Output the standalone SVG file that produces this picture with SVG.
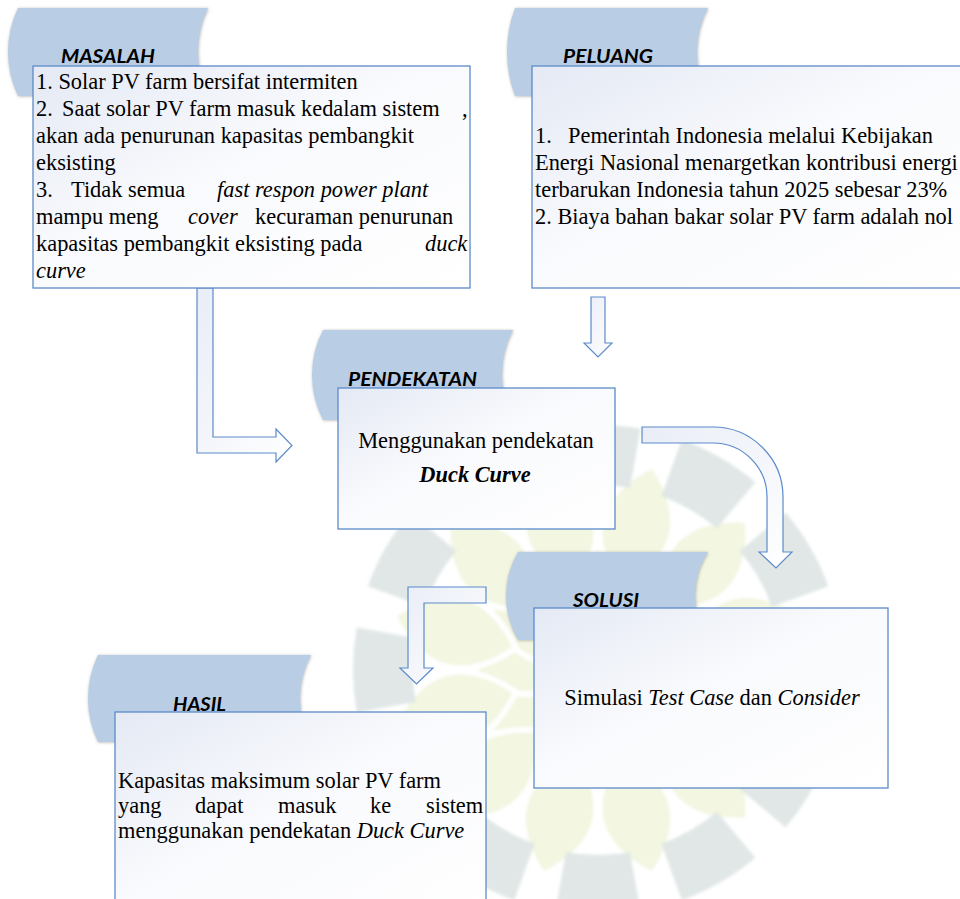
<svg xmlns="http://www.w3.org/2000/svg" width="960" height="899" viewBox="0 0 960 899">
<style>
.tab{fill:#b9cde5;filter:url(#sh)}
.tabt{font-family:Lato,"Open Sans",sans-serif;font-weight:bold;font-style:italic;font-size:18.5px;fill:#000}
.box{fill:url(#boxg);stroke:#5b8bc9;stroke-width:1.3}
.arr{fill:url(#arrg);stroke:#5b8bc9;stroke-width:1.2;stroke-linejoin:miter}
.t{font-family:"Liberation Serif","Times New Roman",serif;font-size:22.4px;fill:#000}
.i{font-style:italic}
.b{font-weight:bold}
.seg{fill:#d6e0de}
.leaf{fill:#eff3d6;stroke:#fff;stroke-width:6}
</style>
<defs>
<linearGradient id="boxg" x1="0" y1="0" x2="1" y2="1">
<stop offset="0" stop-color="#e4e9f4"/>
<stop offset="0.45" stop-color="#f9fafd"/>
<stop offset="1" stop-color="#ffffff"/>
</linearGradient>
<linearGradient id="arrg" x1="0" y1="0" x2="1" y2="1">
<stop offset="0" stop-color="#e9edf7"/>
<stop offset="1" stop-color="#ffffff"/>
</linearGradient>
<filter id="sh" x="-10%" y="-10%" width="120%" height="120%">
<feDropShadow dx="0.5" dy="0.5" stdDeviation="1.4" flood-color="#777" flood-opacity="0.55"/>
</filter>
<filter id="bl"><feGaussianBlur stdDeviation="1.5"/></filter>
<path id="seg" d="M182.2,-32.1 L241.3,-42.5 A245,245 0 0 1 241.3,42.5 L182.2,32.1 A185,185 0 0 0 182.2,-32.1 Z"/>
<path id="leaf" d="M85,0 Q148,-72 212,0 Q148,72 85,0 Z"/>
<path id="leaf2" d="M18,0 Q70,-48 125,0 Q70,48 18,0 Z"/>
</defs>
<rect x="0" y="0" width="960" height="899" fill="#ffffff"/>

<g id="watermark" filter="url(#bl)" opacity="0.75">
<g transform="translate(598,670)">
<use href="#leaf2" class="leaf" transform="rotate(0)"/>
<use href="#leaf2" class="leaf" transform="rotate(30)"/>
<use href="#leaf2" class="leaf" transform="rotate(60)"/>
<use href="#leaf2" class="leaf" transform="rotate(90)"/>
<use href="#leaf2" class="leaf" transform="rotate(120)"/>
<use href="#leaf2" class="leaf" transform="rotate(150)"/>
<use href="#leaf2" class="leaf" transform="rotate(180)"/>
<use href="#leaf2" class="leaf" transform="rotate(210)"/>
<use href="#leaf2" class="leaf" transform="rotate(240)"/>
<use href="#leaf2" class="leaf" transform="rotate(270)"/>
<use href="#leaf2" class="leaf" transform="rotate(300)"/>
<use href="#leaf2" class="leaf" transform="rotate(330)"/>
<use href="#leaf" class="leaf" transform="rotate(15)"/>
<use href="#leaf" class="leaf" transform="rotate(45)"/>
<use href="#leaf" class="leaf" transform="rotate(75)"/>
<use href="#leaf" class="leaf" transform="rotate(105)"/>
<use href="#leaf" class="leaf" transform="rotate(135)"/>
<use href="#leaf" class="leaf" transform="rotate(165)"/>
<use href="#leaf" class="leaf" transform="rotate(195)"/>
<use href="#leaf" class="leaf" transform="rotate(225)"/>
<use href="#leaf" class="leaf" transform="rotate(255)"/>
<use href="#leaf" class="leaf" transform="rotate(285)"/>
<use href="#leaf" class="leaf" transform="rotate(315)"/>
<use href="#leaf" class="leaf" transform="rotate(345)"/>
<use href="#seg" class="seg" transform="rotate(0)"/>
<use href="#seg" class="seg" transform="rotate(30)"/>
<use href="#seg" class="seg" transform="rotate(60)"/>
<use href="#seg" class="seg" transform="rotate(90)"/>
<use href="#seg" class="seg" transform="rotate(120)"/>
<use href="#seg" class="seg" transform="rotate(150)"/>
<use href="#seg" class="seg" transform="rotate(180)"/>
<use href="#seg" class="seg" transform="rotate(210)"/>
<use href="#seg" class="seg" transform="rotate(240)"/>
<use href="#seg" class="seg" transform="rotate(270)"/>
<use href="#seg" class="seg" transform="rotate(300)"/>
<use href="#seg" class="seg" transform="rotate(330)"/>
</g>
</g>

<g id="connectors">
<path class="arr" d="M197,288 L213,288 L213,437 L276,437 L276,429 L292,445.5 L276,462 L276,453 L197,453 Z"/>
<path class="arr" d="M591,297 L605,297 L605,343 L612,343 L598,357 L584,343 L591,343 Z"/>
<path class="arr" d="M642,427 L713,427 A70,70 0 0 1 783,497 L783,552 L792,552 L776,568 L759,552 L767,552 L767,497 A54,54 0 0 0 713,443 L642,443 Z"/>
<path class="arr" d="M486,587 L408,587 L408,668 L400,668 L416.5,684 L433,668 L424,668 L424,603 L486,603 Z"/>
</g>

<g id="masalah">
<path class="tab" d="M18,8 L208,8 A101.8,101.8 0 0 0 208,96 L18,96 A101.8,101.8 0 0 1 18,8 Z"/>
<text class="tabt" x="61" y="63" textLength="94" lengthAdjust="spacingAndGlyphs">MASALAH</text>
<rect class="box" x="33" y="66" width="437" height="222"/>
<text class="t" y="89"><tspan x="36">1. Solar PV farm bersifat intermiten</tspan></text>
<text class="t" y="116"><tspan x="36">2.</tspan><tspan x="62">Saat solar PV farm masuk kedalam sistem</tspan><tspan x="462">,</tspan></text>
<text class="t" x="36" y="143">akan ada penurunan kapasitas pembangkit</text>
<text class="t" x="36" y="170">eksisting</text>
<text class="t" y="197"><tspan x="36">3.</tspan><tspan x="71">Tidak semua</tspan><tspan x="217" class="i">fast respon power plant</tspan></text>
<text class="t" y="224"><tspan x="36">mampu meng</tspan><tspan x="188" class="i">cover</tspan><tspan x="255">kecuraman penurunan</tspan></text>
<text class="t" y="251"><tspan x="36">kapasitas pembangkit eksisting pada</tspan><tspan x="425" class="i">duck</tspan></text>
<text class="t i" x="36" y="278">curve</text>
</g>

<g id="peluang">
<path class="tab" d="M515,8 L708,8 A93.5,93.5 0 0 0 708,96 L515,96 A125,125 0 0 1 515,8 Z"/>
<text class="tabt" x="563" y="63" textLength="90" lengthAdjust="spacingAndGlyphs">PELUANG</text>
<rect class="box" x="532" y="66" width="450" height="222"/>
<text class="t" y="143"><tspan x="535">1.</tspan><tspan x="568">Pemerintah Indonesia melalui Kebijakan</tspan></text>
<text class="t" x="535" y="170">Energi Nasional menargetkan kontribusi energi</text>
<text class="t" x="535" y="197">terbarukan Indonesia tahun 2025 sebesar 23%</text>
<text class="t" x="535" y="224">2. Biaya bahan bakar solar PV farm adalah nol</text>
</g>

<g id="pendekatan">
<path class="tab" d="M323,330 L513,330 A97.5,97.5 0 0 0 513,420 L323,420 A97.5,97.5 0 0 1 323,330 Z"/>
<text class="tabt" x="348" y="386" textLength="129" lengthAdjust="spacingAndGlyphs">PENDEKATAN</text>
<rect class="box" x="338" y="388" width="277" height="141"/>
<text class="t" x="476" y="448" text-anchor="middle">Menggunakan pendekatan</text>
<text class="t i b" x="475" y="482" text-anchor="middle">Duck Curve</text>
</g>

<g id="solusi">
<path class="tab" d="M518,552 L708,552 A81,81 0 0 0 708,640 L518,640 A86.7,86.7 0 0 1 518,552 Z"/>
<text class="tabt" x="573" y="607" textLength="66" lengthAdjust="spacingAndGlyphs">SOLUSI</text>
<rect class="box" x="534" y="608" width="354" height="180"/>
<text class="t" x="712" y="705" text-anchor="middle">Simulasi <tspan class="i">Test Case</tspan> dan <tspan class="i">Consider</tspan></text>
</g>

<g id="hasil">
<path class="tab" d="M98,655 L311,655 A91.5,91.5 0 0 0 311,742 L98,742 A99.6,99.6 0 0 1 98,655 Z"/>
<text class="tabt" x="173" y="711" textLength="53" lengthAdjust="spacingAndGlyphs">HASIL</text>
<rect class="box" x="115" y="712" width="371" height="210"/>
<text class="t" x="118" y="788">Kapasitas maksimum solar PV farm</text>
<text class="t" y="813"><tspan x="118">yang</tspan><tspan x="195">dapat</tspan><tspan x="278">masuk</tspan><tspan x="370">ke</tspan><tspan x="426">sistem</tspan></text>
<text class="t" x="118" y="838">menggunakan pendekatan <tspan class="i">Duck Curve</tspan></text>
</g>
</svg>
